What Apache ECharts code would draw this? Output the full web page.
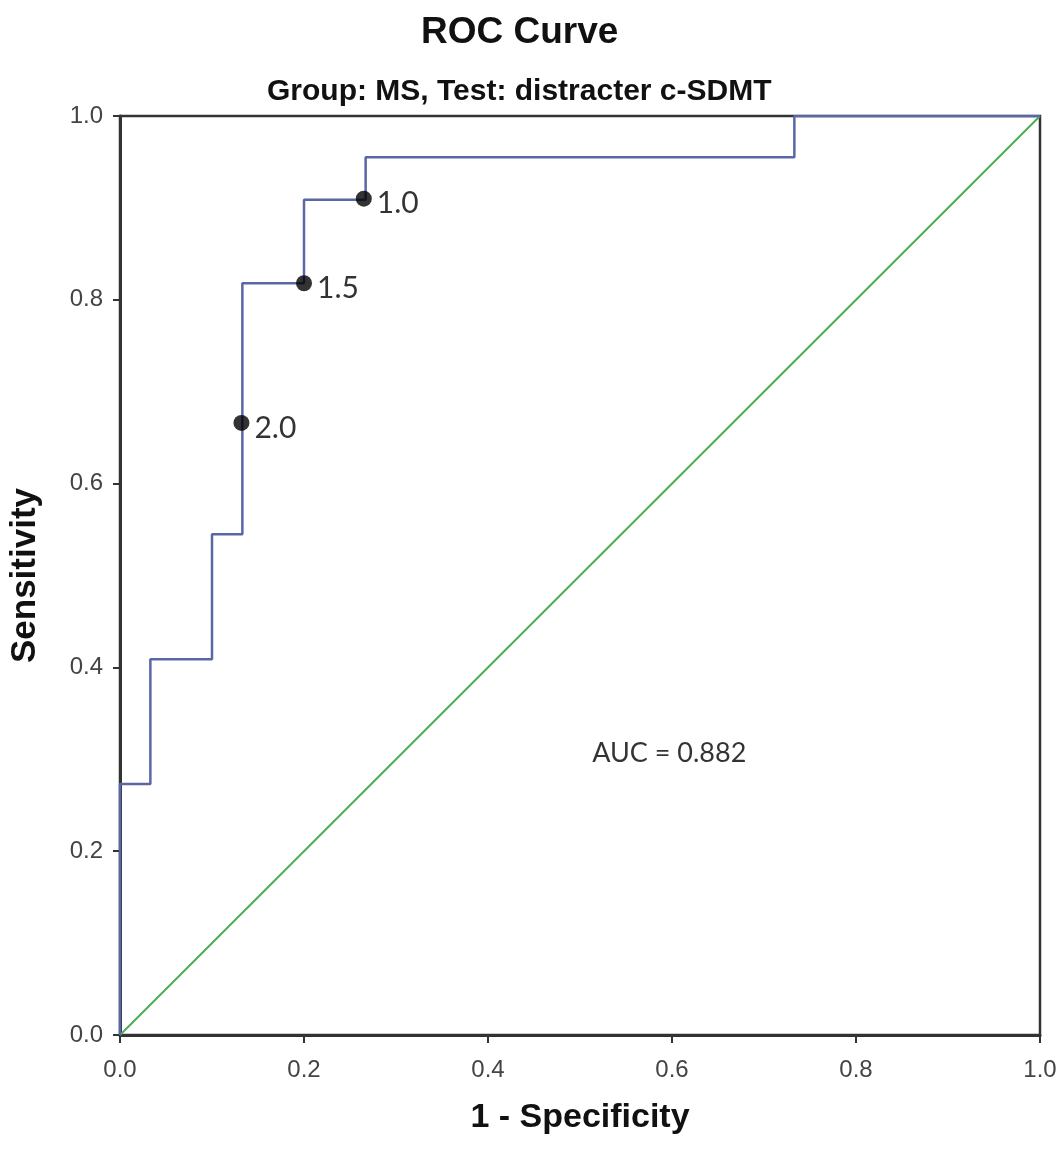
<!DOCTYPE html>
<html>
<head>
<meta charset="utf-8">
<script src="https://cdn.jsdelivr.net/npm/echarts@6/dist/echarts.min.js"></script>
<style>
html,body{margin:0;padding:0;background:#fff;}
#chart{width:1063px;height:1149px;}
</style>
</head>
<body>
<div id="chart"></div>
<script>
// ROC step curve corner points (1 - specificity, sensitivity)
const rocFpr = [0, 0, 0.033, 0.1, 0.133, 0.2, 0.267, 0.733, 1.0];
const rocTpr = [0, 0.273, 0.409, 0.545, 0.818, 0.909, 0.955, 1.0, 1.0];
// reference diagonal
const refX = [0, 1];
const refY = [0, 1];
// marked cut-off points
const cutFpr = [0.265, 0.2, 0.132];
const cutTpr = [0.910, 0.818, 0.666];
const cutLabels = ['1.0', '1.5', '2.0'];
// annotation
const aucText = 'AUC = 0.882';
const aucPos = [0.597, 0.307];
// ticks
const tickValues = [0, 0.2, 0.4, 0.6, 0.8, 1.0];

const chart = echarts.init(document.getElementById('chart'), null, {renderer: 'canvas'});
const sansFont = 'Arial, "Liberation Sans", sans-serif';
const noteFont = 'Lato, "Open Sans", sans-serif';

const option = {
  backgroundColor: '#fff',
  animation: false,
  title: [
    {text: 'ROC Curve', left: 416, top: 9,
     textStyle: {fontFamily: sansFont, fontSize: 37, fontWeight: 'bold', color: '#111'}},
    {text: 'Group: MS, Test: distracter c-SDMT', left: 262, top: 72,
     textStyle: {fontFamily: sansFont, fontSize: 30, fontWeight: 'bold', color: '#111'}}
  ],
  grid: {left: 120, right: 23, top: 116, bottom: 114, show: true, borderColor: '#333', borderWidth: 2.5, backgroundColor: 'transparent'},
  xAxis: {
    type: 'value', min: 0, max: 1, interval: 0.2,
    name: '1 - Specificity', nameLocation: 'middle', nameGap: 66,
    nameTextStyle: {fontFamily: sansFont, fontSize: 34, fontWeight: 'bold', color: '#111'},
    axisLine: {show: true, lineStyle: {color: '#333', width: 3}},
    axisTick: {show: true, length: 8, inside: false, lineStyle: {color: '#333', width: 2}},
    axisLabel: {fontFamily: sansFont, fontSize: 24, color: '#444', margin: 23,
                formatter: v => tickValues.includes(Math.round(v * 10) / 10) ? v.toFixed(1) : ''},
    splitLine: {show: false}
  },
  yAxis: {
    type: 'value', min: 0, max: 1, interval: 0.2,
    name: 'Sensitivity', nameLocation: 'middle', nameGap: 77, nameRotate: 90,
    nameTextStyle: {fontFamily: sansFont, fontSize: 35, fontWeight: 'bold', color: '#111'},
    axisLine: {show: true, lineStyle: {color: '#333', width: 3}},
    axisTick: {show: true, length: 7, inside: false, lineStyle: {color: '#333', width: 2}},
    axisLabel: {fontFamily: sansFont, fontSize: 24, color: '#444', margin: 17,
                formatter: v => tickValues.includes(Math.round(v * 10) / 10) ? v.toFixed(1) : ''},
    splitLine: {show: false}
  },
  series: [
    {
      type: 'line', data: refX.map((x, i) => [x, refY[i]]),
      symbol: 'none', lineStyle: {color: '#4cae52', width: 2}, z: 2
    },
    {
      type: 'line', step: 'end', data: rocFpr.map((x, i) => [x, rocTpr[i]]),
      symbol: 'none', lineStyle: {color: '#5a67a6', width: 2.5}, z: 3
    },
    {
      type: 'scatter', data: cutFpr.map((x, i) => ({value: [x, cutTpr[i]], name: cutLabels[i]})),
      symbol: 'circle', symbolSize: 16, itemStyle: {color: '#000'}, z: 5,
      label: {show: true, position: 'right', distance: 5, formatter: p => p.name,
              fontFamily: noteFont, fontSize: 30, color: '#000', offset: [0, 5]}
    },
    {
      type: 'scatter', data: [{value: aucPos, name: aucText}],
      symbolSize: 0, silent: true, z: 5,
      label: {show: true, position: 'inside', formatter: p => p.name,
              fontFamily: noteFont, fontSize: 27, color: '#000'}
    }
  ]
};
chart.setOption(option);
</script>
</body>
</html>
